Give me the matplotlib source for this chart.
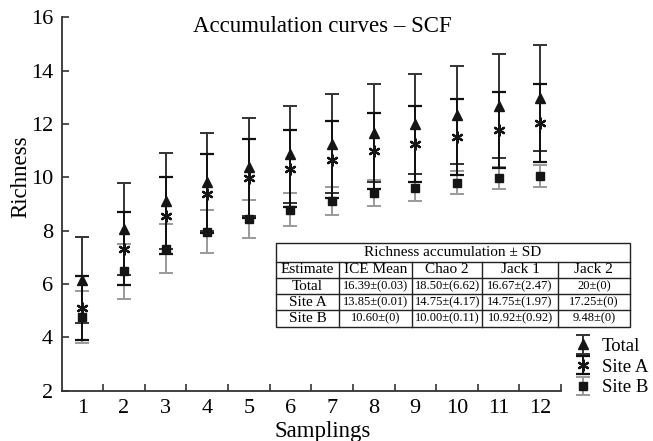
import matplotlib
matplotlib.use("Agg")
import matplotlib.pyplot as plt
import numpy as np
from matplotlib.patches import Rectangle

plt.rcParams['font.family'] = ['Liberation Serif', 'DejaVu Serif']

samplings = [1, 2, 3, 4, 5, 6, 7, 8, 9, 10, 11, 12]
total_mean = [6.15, 8.07, 9.12, 9.83, 10.40, 10.87, 11.26, 11.65, 12.00, 12.34, 12.68, 12.97]
total_sd = [1.60, 1.73, 1.80, 1.85, 1.84, 1.82, 1.86, 1.84, 1.86, 1.85, 1.95, 1.98]
siteA_mean = [5.10, 7.32, 8.56, 9.39, 9.96, 10.33, 10.66, 10.99, 11.25, 11.52, 11.78, 12.03]
siteA_sd = [1.20, 1.37, 1.45, 1.49, 1.48, 1.46, 1.45, 1.41, 1.44, 1.42, 1.43, 1.46]
siteB_mean = [4.75, 6.47, 7.32, 7.96, 8.43, 8.79, 9.10, 9.42, 9.61, 9.80, 9.96, 10.05]
siteB_sd = [0.97, 1.03, 0.92, 0.80, 0.72, 0.61, 0.53, 0.48, 0.50, 0.44, 0.41, 0.42]

table_title = "Richness accumulation \u00b1 SD"
table_cols = ["Estimate", "ICE Mean", "Chao 2", "Jack 1", "Jack 2"]
table_rows = [
    ["Total", "16.39\u00b1(0.03)", "18.50\u00b1(6.62)", "16.67\u00b1(2.47)", "20\u00b1(0)"],
    ["Site A", "13.85\u00b1(0.01)", "14.75\u00b1(4.17)", "14.75\u00b1(1.97)", "17.25\u00b1(0)"],
    ["Site B", "10.60\u00b1(0)", "10.00\u00b1(0.11)", "10.92\u00b1(0.92)", "9.48\u00b1(0)"],
]

W, H = 653, 441
fig = plt.figure(figsize=(W / 100, H / 100), dpi=100)
ax = fig.add_axes([61.5 / W, 50.3 / H, (561 - 61.5) / W, (423.7 - 50.3) / H])

cB = '#9a9a9a'
cT = '#333333'
cA = '#111111'
mk = '#151515'

eB = ax.errorbar(samplings, siteB_mean, yerr=siteB_sd, fmt='s', color=cB, mfc=mk, mec=mk,
                 ms=6, elinewidth=1.4, capsize=5, capthick=1.4)
eT = ax.errorbar(samplings, total_mean, yerr=total_sd, fmt='^', color=cT, mfc=mk, mec=mk,
                 ms=7, elinewidth=1.4, capsize=5, capthick=1.4)
eA = ax.errorbar(samplings, siteA_mean, yerr=siteA_sd, marker=(6, 2, 0), linestyle='none',
                 ecolor=cA, color=mk, mfc=mk, mec=mk, ms=8.5, mew=1.6,
                 elinewidth=1.4, capsize=5, capthick=1.4)
eB[0].set_zorder(6)
eT[0].set_zorder(6)
eA[0].set_zorder(7)

ax.set_xlim(0.5, 12.5)
ax.set_ylim(2, 16)
ax.set_yticks(range(2, 17, 2))
ax.set_xticks(samplings)
ax.set_xticks(np.arange(1.5, 12.6, 1.0), minor=True)
ax.tick_params(axis='x', which='major', length=0, pad=6, labelsize=16)
ax.tick_params(axis='x', which='minor', direction='in', length=5, width=1.2, color='#333333')
ax.tick_params(axis='y', direction='in', length=5, width=1.2, color='#333333', pad=6, labelsize=16)
for s in ('top', 'right'):
    ax.spines[s].set_visible(False)
for s in ('left', 'bottom'):
    ax.spines[s].set_linewidth(1.3)
    ax.spines[s].set_color('#333333')

fig.text(322 / W, 1 - 32 / H, "Accumulation curves \u2013 SCF", ha='center', va='baseline', fontsize=16.5)
fig.text(21 / W, 1 - 177 / H, "Richness", rotation=90, ha='center', va='center', fontsize=16.5)
fig.text(323 / W, 1 - 437 / H, "Samplings", ha='center', va='baseline', fontsize=16.5)

leg = fig.legend([eT, eA, eB], ['Total', 'Site A', 'Site B'], loc='center left',
                 bbox_to_anchor=(566 / W, 1 - 367 / H), frameon=False, fontsize=13.5,
                 handlelength=1.0, handletextpad=0.5, labelspacing=0.2, borderaxespad=0)

# table
left, right, top, bottom = 275.7, 630.0, 243.3, 326.7
tax = fig.add_axes([left / W, 1 - bottom / H, (right - left) / W, (bottom - top) / H])
tax.set_xlim(left, right)
tax.set_ylim(bottom, top)
tax.axis('off')
col_x = [275.7, 339.3, 412.3, 482.3, 557.7, 630.0]
row_y = [243.3, 261.7, 277.7, 294.3, 310.0, 326.7]
lw = 1.0
tax.add_patch(Rectangle((left, top), right - left, bottom - top, fill=False, lw=lw, ec='#222222', clip_on=False))
for y in row_y[1:-1]:
    tax.plot([left, right], [y, y], color='#222222', lw=lw, clip_on=False)
for x in col_x[1:-1]:
    tax.plot([x, x], [row_y[1], bottom], color='#222222', lw=lw, clip_on=False)
tax.text((left + right) / 2, (row_y[0] + row_y[1]) / 2, table_title, ha='center', va='center', fontsize=11)
for j, name in enumerate(table_cols):
    tax.text((col_x[j] + col_x[j + 1]) / 2, (row_y[1] + row_y[2]) / 2, name, ha='center', va='center', fontsize=11)
for i, row in enumerate(table_rows):
    for j, val in enumerate(row):
        fs = 11 if j == 0 else 9
        tax.text((col_x[j] + col_x[j + 1]) / 2, (row_y[i + 2] + row_y[i + 3]) / 2, val,
                 ha='center', va='center', fontsize=fs)

fig.savefig("out.png", dpi=100)
